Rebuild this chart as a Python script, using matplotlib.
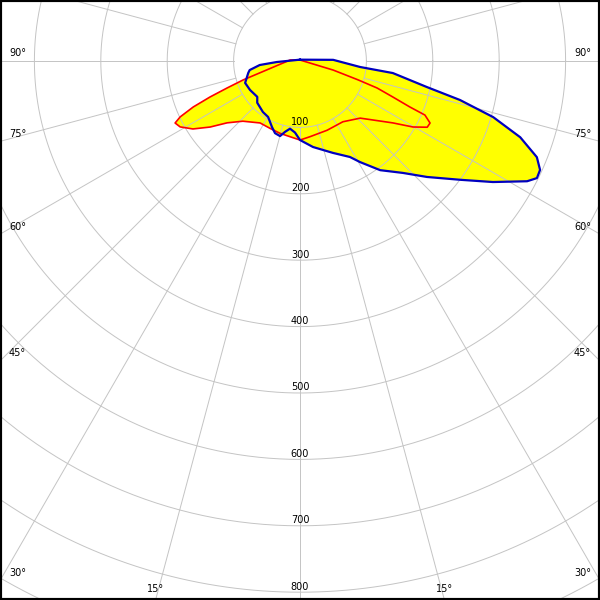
import numpy as np
from matplotlib import pyplot as plt

# gamma in degrees: 0 = straight down, positive = right half, negative = left half
# values in cd
blue_gamma = [180, 92, 84.3, 82.6, 78.4, 76.3, 73.8, 70.9, 67.9, 65.6, 63.7, 62.1,
              57.9, 53.4, 47.6, 42.6, 36.3, 30.7, 27.5, 19.7, 8.6, 0, -4, -8.4,
              -11.9, -14.9, -19.1, -23, -29.7, -36, -45.7, -50, -59.9, -68.2,
              -77, -79.8, -84.3, -87.5, -180]
blue_cd = [2, 50, 91, 141, 195, 248, 303, 351, 385, 397, 398, 387,
           343, 300, 259, 229, 204, 177, 163, 147, 131, 119, 108, 103,
           109, 117, 115, 108, 97, 95, 90, 84, 87, 89,
           80, 77, 61, 35, 2]

red_gamma = [180, 74.7, 72, 70.7, 68.8, 67.3, 66.6, 64.5, 62.5, 59.7, 56.3, 46.5,
             35.2, 21.4, 7.5, 0, -5.2, -15.5, -24.1, -32.8, -43.5, -49.7, -53.7,
             -57.6, -61.2, -63.6, -65, -66.7, -68.2, -69.7, -71.6, -95.7, -180]
red_cd = [1.5, 52, 92, 123, 150, 179, 205, 217, 216, 197, 168, 125,
          112, 112, 115, 119, 116, 113, 111, 111, 125, 144, 168,
          191, 206, 210, 199, 175, 146, 117, 90, 15, 1.5]

ring_values = [100, 200, 300, 400, 500, 600, 700, 800]
ray_angles = [90, 75, 60, 45, 30]
bottom_ray = 15

PX = 0.664  # pixels per cd
XMAX = 300 / PX
YTOP = 61 / PX
YBOT = -539 / PX
GRID = '#c4c4c4'


def to_xy(gamma, cd):
    g = np.radians(np.asarray(gamma, dtype=float))
    cd = np.asarray(cd, dtype=float)
    return cd * np.sin(g), -cd * np.cos(g)


def draw_grid(ax):
    t = np.linspace(0, 2 * np.pi, 721)
    for r in range(100, 1100, 100):
        ax.plot(r * np.cos(t), r * np.sin(t), color=GRID, lw=0.7, zorder=2)
    for a in range(0, 360, 15):
        x, y = to_xy([a, a], [100, 1400])
        ax.plot(x, y, color=GRID, lw=0.7, zorder=2)


def draw_labels(ax):
    for r in ring_values:
        ax.text(0, -r + 5.5 / PX, str(r), ha='center', va='center', fontsize=7, zorder=3)
    pad = 9 / PX
    for a in ray_angles:
        y = -XMAX / np.tan(np.radians(a)) + 7.5 / PX
        ax.text(-XMAX + pad, y, f"{a}°", ha='left', va='center', fontsize=7, zorder=3)
        ax.text(XMAX - pad, y, f"{a}°", ha='right', va='center', fontsize=7, zorder=3)
    x = -YBOT * np.tan(np.radians(bottom_ray))
    for sx in (-1, 1):
        ax.text(sx * x, YBOT + 11 / PX, f"{bottom_ray}°", ha='center', va='center',
                fontsize=7, zorder=3)


def main():
    fig = plt.figure(figsize=(6, 6), dpi=100)
    ax = fig.add_axes([0, 0, 1, 1])
    bx, by = to_xy(blue_gamma, blue_cd)
    rx, ry = to_xy(red_gamma, red_cd)
    ax.fill(bx, by, color='#ffff00', lw=0, zorder=1)
    ax.fill(rx, ry, color='#ffff00', lw=0, zorder=1)
    draw_grid(ax)
    draw_labels(ax)
    ax.plot(rx, ry, color='#ff0000', lw=1.2, zorder=4)
    ax.plot(bx, by, color='#0000c0', lw=1.6, zorder=5)
    ax.set_xlim(-XMAX, XMAX)
    ax.set_ylim(YBOT, YTOP)
    ax.set_xticks([])
    ax.set_yticks([])
    for s in ax.spines.values():
        s.set_color('black')
        s.set_linewidth(3)
    fig.savefig('out.png', dpi=100)


if __name__ == "__main__":
    main()
